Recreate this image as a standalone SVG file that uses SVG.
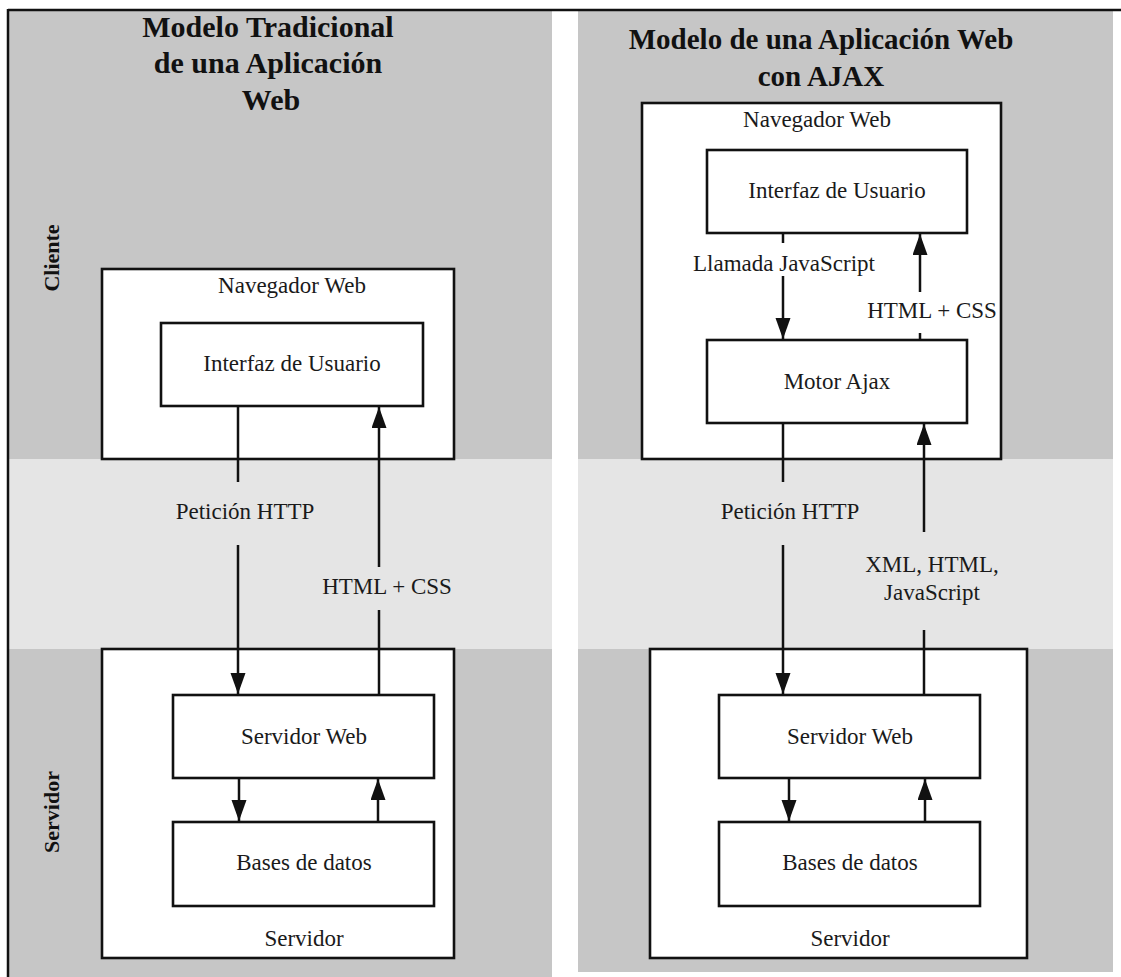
<svg xmlns="http://www.w3.org/2000/svg" width="1121" height="977" viewBox="0 0 1121 977">
<style>
.dark{fill:#c6c6c6}
.light{fill:#e5e5e5}
.box{fill:#ffffff;stroke:#111;stroke-width:2.6}
.t{font-family:"Liberation Serif","Times New Roman",serif;font-size:23px;fill:#1a1a1a;text-anchor:middle}
.title{font-family:"Liberation Serif","Times New Roman",serif;font-size:29px;font-weight:bold;fill:#111;text-anchor:middle}
.tl{font-size:30px}
.side{font-family:"Liberation Serif","Times New Roman",serif;font-size:22px;font-weight:bold;fill:#111;text-anchor:middle}
.ln{stroke:#111;stroke-width:2.5;fill:none}
.arr{stroke:#111;stroke-width:2.5;fill:none;marker-end:url(#ah)}
</style>
<defs>
<marker id="ah" markerUnits="userSpaceOnUse" markerWidth="24" markerHeight="16" refX="21" refY="7.5" orient="auto">
<path d="M0,0 L21,7.5 L0,15 Z" fill="#111"/>
</marker>
</defs>
<rect x="0" y="0" width="1121" height="977" fill="#ffffff"/>
<g id="panel-left">
<rect class="dark" x="9" y="11" width="543" height="966"/>
<rect class="light" x="9" y="459" width="543" height="190"/>
</g>
<g id="panel-right">
<rect class="dark" x="578" y="11" width="535" height="961"/>
<rect class="light" x="578" y="459" width="535" height="190"/>
</g>
<g id="frame">
<line x1="8" y1="10" x2="1121" y2="10" stroke="#111" stroke-width="2.5"/>
<line x1="8" y1="9" x2="8" y2="977" stroke="#111" stroke-width="2.5"/>
</g>
<g id="titles">
<text class="title tl" x="268" y="37">Modelo Tradicional</text>
<text class="title tl" x="268" y="73">de una Aplicación</text>
<text class="title tl" x="271" y="110">Web</text>
<text class="title" x="821" y="49">Modelo de una Aplicación Web</text>
<text class="title" x="821" y="86">con AJAX</text>
</g>
<g id="side-labels">
<text class="side" transform="translate(59,258) rotate(-90)">Cliente</text>
<text class="side" transform="translate(59,812) rotate(-90)">Servidor</text>
</g>
<g id="left-navegador">
<rect class="box" x="102" y="269" width="352" height="190"/>
<text class="t" x="292" y="293">Navegador Web</text>
</g>
<g id="left-interfaz">
<rect class="box" x="161" y="323" width="262" height="83"/>
<text class="t" x="292" y="371">Interfaz de Usuario</text>
</g>
<g id="left-servidor">
<rect class="box" x="102" y="649" width="352" height="309"/>
<text class="t" x="304" y="946">Servidor</text>
</g>
<g id="left-servidor-web">
<rect class="box" x="173" y="695" width="261" height="83"/>
<text class="t" x="304" y="744">Servidor Web</text>
</g>
<g id="left-bd">
<rect class="box" x="173" y="822" width="261" height="84"/>
<text class="t" x="304" y="870">Bases de datos</text>
</g>
<g id="right-navegador">
<rect class="box" x="642" y="103" width="359" height="356"/>
<text class="t" x="817" y="127">Navegador Web</text>
</g>
<g id="right-interfaz">
<rect class="box" x="707" y="150" width="260" height="83"/>
<text class="t" x="837" y="198">Interfaz de Usuario</text>
</g>
<g id="right-motor">
<rect class="box" x="707" y="340" width="260" height="83"/>
<text class="t" x="837" y="389">Motor Ajax</text>
</g>
<g id="right-servidor">
<rect class="box" x="650" y="649" width="377" height="309"/>
<text class="t" x="850" y="946">Servidor</text>
</g>
<g id="right-servidor-web">
<rect class="box" x="719" y="695" width="261" height="83"/>
<text class="t" x="850" y="744">Servidor Web</text>
</g>
<g id="right-bd">
<rect class="box" x="719" y="822" width="261" height="84"/>
<text class="t" x="850" y="870">Bases de datos</text>
</g>
<g id="connectors">
<line class="ln" x1="238" y1="406" x2="238" y2="482"/>
<line class="arr" x1="238" y1="545" x2="238" y2="694"/>
<line class="ln" x1="379" y1="695" x2="379" y2="610"/>
<line class="arr" x1="379" y1="567" x2="379" y2="407"/>
<line class="arr" x1="239" y1="778" x2="239" y2="821"/>
<line class="arr" x1="378" y1="822" x2="378" y2="779"/>
<line class="ln" x1="783" y1="233" x2="783" y2="243"/>
<line class="arr" x1="783" y1="276" x2="783" y2="339"/>
<line class="ln" x1="920" y1="340" x2="920" y2="333"/>
<line class="arr" x1="920" y1="292" x2="920" y2="234"/>
<line class="ln" x1="783" y1="423" x2="783" y2="482"/>
<line class="arr" x1="783" y1="545" x2="783" y2="694"/>
<line class="ln" x1="924" y1="695" x2="924" y2="630"/>
<line class="arr" x1="924" y1="532" x2="924" y2="424"/>
<line class="arr" x1="789" y1="778" x2="789" y2="821"/>
<line class="arr" x1="925" y1="822" x2="925" y2="779"/>
</g>
<g id="connector-labels">
<text class="t" x="245" y="519">Petición HTTP</text>
<text class="t" x="387" y="594">HTML + CSS</text>
<text class="t" x="784" y="271">Llamada JavaScript</text>
<text class="t" x="932" y="318">HTML + CSS</text>
<text class="t" x="790" y="519">Petición HTTP</text>
<text class="t" x="932" y="572">XML, HTML,</text>
<text class="t" x="932" y="600">JavaScript</text>
</g>
</svg>
